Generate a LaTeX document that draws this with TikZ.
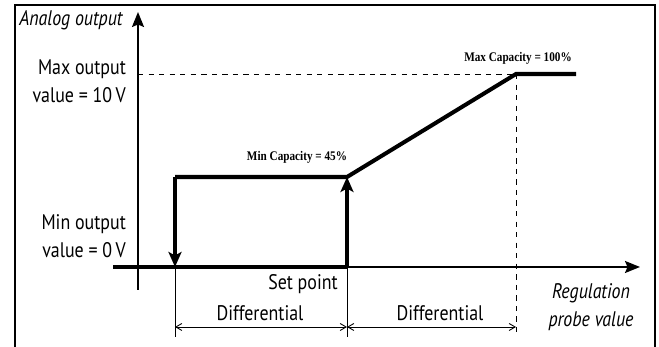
\documentclass[tikz,border=0pt]{standalone}
\usepackage{fontspec}
\setmainfont{PT Sans}[FakeStretch=0.85]
\newfontfamily\capfont{Liberation Serif}[FakeStretch=0.85]
\usetikzlibrary{arrows.meta}

\tikzset{
    lbl/.style={font=\fontsize{12}{16}\selectfont, inner sep=1pt},
    caplbl/.style={font=\capfont\bfseries\fontsize{7.5}{9}\selectfont, inner sep=1pt},
    curve/.style={line width=2.3pt},
    bigtip/.style={-{Stealth[length=0.3cm,width=0.26cm,inset=0.07cm]}},
    dim/.style={line width=0.5pt, {Straight Barb[length=0.12cm,width=0.14cm]}-{Straight Barb[length=0.12cm,width=0.14cm]}}
}

\begin{document}
\begin{tikzpicture}[x=0.02cm,y=0.02cm]
    \useasboundingbox (0,0) rectangle (659,347);
    \draw[line width=1.2pt] (15,0) -- (15,342) -- (655,342) -- (655,0);% frame

    \coordinate (ybot) at (138,57);
    \coordinate (ytop) at (138,335);
    \coordinate (xstart) at (113,80);
    \coordinate (xend) at (640,80);
    \coordinate (a0) at (175,80);% differential start
    \coordinate (a1) at (175,170);
    \coordinate (s0) at (347,80);% set point
    \coordinate (s1) at (347,170);
    \coordinate (m1) at (516,273);% max point
    \coordinate (m2) at (576,273);
    \coordinate (ymax) at (138,273);

    \draw[line width=1.1pt,-{Stealth[length=0.3cm,width=0.24cm,inset=0.05cm]}] (ybot) -- (ytop);% y axis
    \draw[line width=1.1pt,-{Stealth[length=0.3cm,width=0.24cm,inset=0.05cm]}] (s0) -- (xend);% x axis
    \draw[curve] (xstart) -- (s0);% off region

    \draw[dashed, line width=0.5pt] (ymax) -- (m1);% max level
    \draw[dashed, line width=0.5pt] (m1) -- (516,10);% max position

    \draw[line width=0.5pt] (a0) -- (175,10);% extension lines
    \draw[line width=0.5pt] (s0) -- (347,10);

    \draw[curve] (a1) -- (s1) -- (m1) -- (m2);% capacity curve
    \draw[curve,bigtip] (a1) -- (a0);% switch off
    \draw[curve,bigtip] (s0) -- (s1);% switch on

    \draw[dim] (a0 |- 0,20) -- (s0 |- 0,20);% differential
    \draw[dim] (s0 |- 0,20) -- (m1 |- 0,20);

    \node[lbl, font=\itshape\fontsize{12}{16}\selectfont] (yname) at (71,327) {Analog output};
    \node[lbl, align=right, anchor=east] (maxout) at (128,266) {Max output\\value = 10\,V};
    \node[lbl, align=right, anchor=east] (minout) at (128,111) {Min output\\value = 0\,V};
    \node[lbl] (setp) at (303,63) {Set point};
    \node[lbl] (diff1) at (260,34) {Differential};
    \node[lbl] (diff2) at (440,34) {Differential};
    \node[lbl, align=center, font=\itshape\fontsize{12}{16}\selectfont] (xname) at (591,40) {Regulation\\probe value};
    \node[caplbl] (mincap) at (297,190) {Min Capacity = 45\%};
    \node[caplbl] (maxcap) at (518,289) {Max Capacity = 100\%};
\end{tikzpicture}
\end{document}
